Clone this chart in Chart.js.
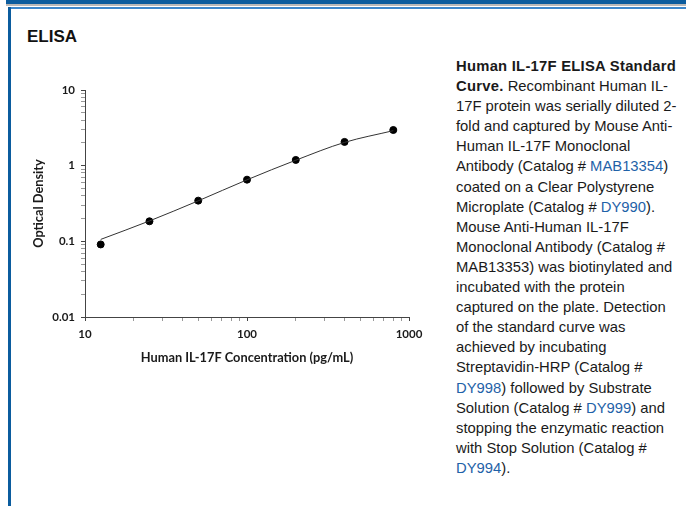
<!DOCTYPE html>
<html>
<head>
<meta charset="utf-8">
<script src="https://cdn.jsdelivr.net/npm/chart.js@4"></script>
<style>
  html, body { margin:0; padding:0; background:#fff; }
  body { width:686px; height:506px; position:relative; overflow:hidden; font-family:"Liberation Sans", Arial, sans-serif; }
  .band { position:absolute; left:6px; right:0; top:0; height:3.5px; background:#0b5c9e; }
  .grey { position:absolute; left:6px; right:0; top:4px; height:2px; background:#b8b8b8; }
  .thin { position:absolute; left:8px; right:0; top:7px; height:2px; background:#3d88cc; }
  .side { position:absolute; left:8px; top:7px; width:2.5px; bottom:0; background:#0b5c9e; }
  h1 { position:absolute; left:27px; top:27px; margin:0; font-size:17px; font-weight:bold; color:#111; }
  #cap { position:absolute; left:456px; top:56px; font-size:14.8px; line-height:20.1px; color:#1a1a1a; white-space:nowrap; }
  #cap b { letter-spacing:0.25px; }
  #cap a { color:#1f62a8; text-decoration:none; }
  #wrap { position:absolute; left:0; top:0; width:440px; height:380px; }
</style>
</head>
<body>
<div class="band"></div><div class="grey"></div><div class="thin"></div><div class="side"></div>
<h1>ELISA</h1>
<div id="wrap"><canvas id="myChart1"></canvas></div>
<div id="cap">
<b>Human IL-17F ELISA Standard</b><br>
<b>Curve.</b> Recombinant Human IL-<br>
17F protein was serially diluted 2-<br>
fold and captured by Mouse Anti-<br>
Human IL-17F Monoclonal<br>
Antibody (Catalog # <a>MAB13354</a>)<br>
coated on a Clear Polystyrene<br>
Microplate (Catalog # <a>DY990</a>).<br>
Mouse Anti-Human IL-17F<br>
Monoclonal Antibody (Catalog #<br>
MAB13353) was biotinylated and<br>
incubated with the protein<br>
captured on the plate. Detection<br>
of the standard curve was<br>
achieved by incubating<br>
Streptavidin-HRP (Catalog #<br>
<a>DY998</a>) followed by Substrate<br>
Solution (Catalog # <a>DY999</a>) and<br>
stopping the enzymatic reaction<br>
with Stop Solution (Catalog #<br>
<a>DY994</a>).
</div>
<script>
// concentrations (pg/mL) and measured OD
var conc = [12.5, 25, 50, 100, 200, 400, 800];
var od = [0.091, 0.184, 0.345, 0.653, 1.19, 2.06, 2.96];
// fitted standard curve
var fitOd = [0.106, 0.186, 0.343, 0.65, 1.18, 2.03, 2.9];
var xMajor = [10, 100, 1000];
var yMajor = [0.01, 0.1, 1, 10];

function withMinor(major) {
  var t = [];
  for (var i = 0; i < major.length; i++) {
    t.push({ value: major[i], major: true });
    if (i < major.length - 1) {
      for (var k = 2; k <= 9; k++) t.push({ value: major[i] * k, major: false });
    }
  }
  return t;
}

var tickFont = { family: 'Lato', size: 11.5, weight: 'bold' };
var titleFont = { family: 'Lato', size: 12.8, weight: 'bold' };
var ctx = document.getElementById('myChart1').getContext('2d');
var chart = new Chart(ctx, {
  type: 'scatter',
  data: {
    datasets: [{
      label: 'fit',
      data: conc.map(function (c, i) { return { x: c, y: fitOd[i] }; }),
      showLine: true,
      borderColor: '#333',
      borderWidth: 1,
      pointRadius: 0,
      cubicInterpolationMode: 'monotone'
    }, {
      label: 'OD',
      data: conc.map(function (c, i) { return { x: c, y: od[i] }; }),
      backgroundColor: '#000',
      borderColor: '#000',
      pointRadius: 3.5
    }]
  },
  options: {
    responsive: true,
    maintainAspectRatio: false,
    animation: false,
    layout: { padding: { left: 27, top: 90, right: 31, bottom: 13 } },
    plugins: { legend: { display: false }, tooltip: { enabled: false } },
    scales: {
      x: {
        type: 'logarithmic', min: 10, max: 1000,
        afterBuildTicks: function (s) { s.ticks = withMinor(xMajor); },
        afterFit: function (s) { s.height = 50; },
        grid: { drawOnChartArea: false, tickLength: 4, color: function (c) { return c.tick && c.tick.major ? '#444' : '#999'; } },
        border: { color: '#444' },
        ticks: { autoSkip: false, maxRotation: 0, padding: 6, color: '#1a1a1a', font: tickFont,
          callback: function (v) { return xMajor.indexOf(v) >= 0 ? String(v) : ''; } },
        title: { display: true, text: 'Human IL-17F Concentration (pg/mL)', color: '#1a1a1a',
          font: titleFont, padding: { top: 4, bottom: 1 } }
      },
      y: {
        type: 'logarithmic', min: 0.01, max: 10,
        afterBuildTicks: function (s) { s.ticks = withMinor(yMajor); },
        afterFit: function (s) { s.width = 58; },
        grid: { drawOnChartArea: false, tickLength: 4, color: function (c) { return c.tick && c.tick.major ? '#444' : '#999'; } },
        border: { color: '#444' },
        ticks: { autoSkip: false, padding: 6, color: '#1a1a1a', font: tickFont,
          callback: function (v) { return yMajor.indexOf(v) >= 0 ? String(v) : ''; } },
        title: { display: true, text: 'Optical Density', color: '#1a1a1a',
          font: titleFont, padding: 4 }
      }
    }
  }
});
</script>
</body>
</html>
